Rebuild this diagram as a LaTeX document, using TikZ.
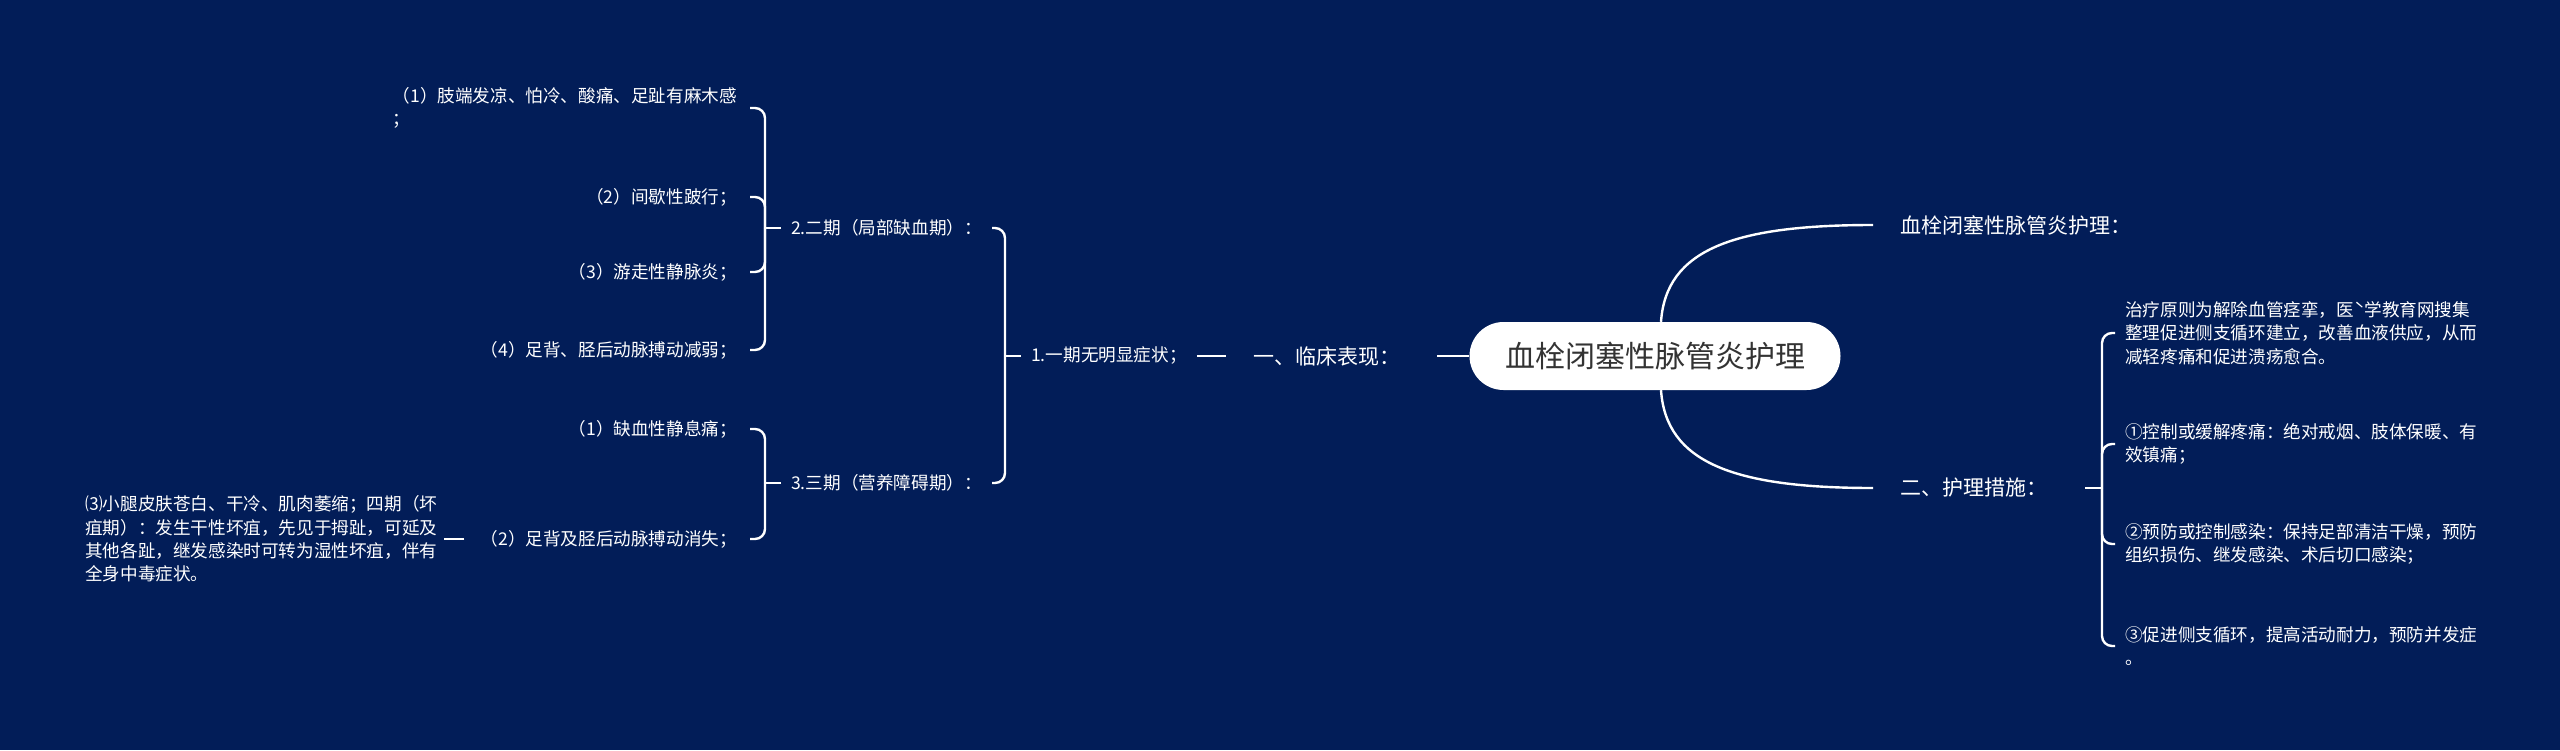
\documentclass[tikz,border=0pt]{standalone}
\usepackage{fontspec}
\setmainfont{Noto Sans CJK SC}
\definecolor{bg}{RGB}{2,29,88}
\definecolor{ctext}{RGB}{51,51,51}
\begin{document}
\begin{tikzpicture}[x=1pt,y=-1pt,
  conn/.style={draw=white, line width=2.4pt},
  brk/.style={conn, rounded corners=10pt},
  leaf/.style={text=white, inner sep=0pt, font=\fontsize{17.6}{23.3}\selectfont, align=left},
  mainlab/.style={text=white, inner sep=0pt, font=\fontsize{21}{26}\selectfont},
  ]
\fill[bg] (0,0) rectangle (2560,750);
\useasboundingbox (0,0) rectangle (2560,750);

% root
\node[fill=white, rounded corners=34pt, minimum width=371pt, minimum height=68pt,
      text=ctext, font=\fontsize{30}{36}\selectfont, inner sep=0pt] (root) at (1655,356) {血栓闭塞性脉管炎护理};

% left side
\node[mainlab, anchor=west] (b1) at (1253,356) {一、临床表现：};
\node[leaf, anchor=west] (c1) at (1031,356) {1.一期无明显症状；};
\node[leaf, anchor=west] (c2) at (791,228) {2.二期（局部缺血期）：};
\node[leaf, anchor=west] (c3) at (791,483) {3.三期（营养障碍期）：};
\node[leaf, anchor=east] (d1) at (737,108) {（1）肢端发凉、怕冷、酸痛、足趾有麻木感\\；};
\node[leaf, anchor=east] (d2) at (737,197) {（2）间歇性跛行；};
\node[leaf, anchor=east] (d3) at (737,272) {（3）游走性静脉炎；};
\node[leaf, anchor=east] (d4) at (737,350) {（4）足背、胫后动脉搏动减弱；};
\node[leaf, anchor=east] (e1) at (737,429) {（1）缺血性静息痛；};
\node[leaf, anchor=east] (e2) at (737,539) {（2）足背及胫后动脉搏动消失；};
\node[leaf, anchor=west] (f1) at (85,539) {⑶小腿皮肤苍白、干冷、肌肉萎缩；四期（坏\\疽期）：发生干性坏疽，先见于拇趾，可延及\\其他各趾，继发感染时可转为湿性坏疽，伴有\\全身中毒症状。};

\coordinate (j1) at (1005,356);
\coordinate (j2) at (765,228);
\coordinate (j3) at (765,483);

\draw[conn, shorten <=37pt] (b1.east) -- (root.west);
\draw[conn, shorten <=10pt, shorten >=27pt] (c1.east) -- (b1.west);
\draw[conn, shorten <=10pt] (c1.west) -- (j1);
\draw[brk] (j1) |- ([xshift=10pt]c2.east);
\draw[brk] (j1) |- ([xshift=10pt]c3.east);
\draw[conn, shorten <=10pt] (c2.west) -- (j2);
\draw[brk] (j2) |- ([xshift=13pt]d1.east);
\draw[brk] (j2) |- ([xshift=13pt]d2.east);
\draw[brk] (j2) |- ([xshift=13pt]d3.east);
\draw[brk] (j2) |- ([xshift=13pt]d4.east);
\draw[conn, shorten <=10pt] (c3.west) -- (j3);
\draw[brk] (j3) |- ([xshift=13pt]e1.east);
\draw[brk] (j3) |- ([xshift=13pt]e2.east);
\draw[conn, shorten <=16pt, shorten >=7pt] (e2.west) -- (f1.east);

% right side
\node[mainlab, anchor=west] (b2) at (1900,225) {血栓闭塞性脉管炎护理：};
\node[mainlab, anchor=west] (b3) at (1900,488) {二、护理措施：};
\node[leaf, anchor=west] (r1) at (2125,333) {治疗原则为解除血管痉挛，医ˋ学教育网搜集\\整理促进侧支循环建立，改善血液供应，从而\\减轻疼痛和促进溃疡愈合。};
\node[leaf, anchor=west] (r2) at (2125,444) {①控制或缓解疼痛：绝对戒烟、肢体保暖、有\\效镇痛；};
\node[leaf, anchor=west] (r3) at (2125,544) {②预防或控制感染：保持足部清洁干燥，预防\\组织损伤、继发感染、术后切口感染；};
\node[leaf, anchor=west] (r4) at (2125,646) {③促进侧支循环，提高活动耐力，预防并发症\\。};

\coordinate (j4) at (2102,488);

\draw[conn] ([xshift=6pt]root.north) .. controls +(5,-72) and +(-140,0) .. ([xshift=-27pt]b2.west);
\draw[conn] ([xshift=6pt]root.south) .. controls +(5,72) and +(-140,0) .. ([xshift=-27pt]b3.west);
\draw[conn, shorten <=38pt] (b3.east) -- (j4);
\draw[brk] (j4) |- ([xshift=-10pt]r1.west);
\draw[brk] (j4) |- ([xshift=-10pt]r2.west);
\draw[brk] (j4) |- ([xshift=-10pt]r3.west);
\draw[brk] (j4) |- ([xshift=-10pt]r4.west);
\end{tikzpicture}
\end{document}
